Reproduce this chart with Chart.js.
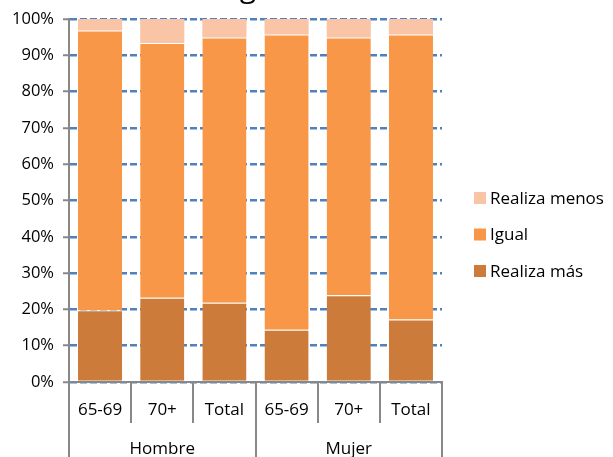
<!DOCTYPE html>
<html>
<head>
<meta charset="utf-8">
<script src="https://cdn.jsdelivr.net/npm/chart.js@4.4.0/dist/chart.umd.min.js"></script>
<style>
  html, body { margin: 0; padding: 0; background: #fff; }
  #wrap { width: 613px; height: 457px; position: relative; }
</style>
</head>
<body>
<div id="wrap"><canvas id="chart" width="613" height="457"></canvas></div>
<script>
// Data
const categories = ['65-69', '70+', 'Total', '65-69', '70+', 'Total'];
const groups = ['Hombre', 'Mujer'];
const realizaMas = [19.8, 23.2, 21.8, 14.4, 23.9, 17.2];
const igual = [77.0, 70.2, 73.1, 81.3, 71.0, 78.5];
const realizaMenos = [3.2, 6.6, 5.1, 4.3, 5.1, 4.3];
const yTicks = [0, 10, 20, 30, 40, 50, 60, 70, 80, 90, 100];

const FONT = '"Open Sans", Lato, sans-serif';
const AXIS_GRAY = '#888888';

// Two level category axis, legend and the clipped title glyph
const extrasPlugin = {
    id: 'extras',
    afterDraw(chart) {
        const ctx = chart.ctx;
        const x = chart.scales.x;
        const area = chart.chartArea;
        const half = (x.getPixelForValue(1) - x.getPixelForValue(0)) / 2;

        ctx.save();
        ctx.strokeStyle = AXIS_GRAY;
        ctx.lineWidth = 2;
        // separators
        for (let i = 0; i <= categories.length; i++) {
            const px = Math.round(i < categories.length ? x.getPixelForValue(i) - half : x.getPixelForValue(i - 1) + half);
            const outer = i % 3 === 0;
            ctx.beginPath();
            ctx.moveTo(px, area.bottom);
            ctx.lineTo(px, outer ? 457 : 423);
            ctx.stroke();
        }
        ctx.fillStyle = '#000';
        ctx.font = '17px ' + FONT;
        ctx.textAlign = 'center';
        ctx.textBaseline = 'middle';
        categories.forEach((c, i) => {
            ctx.fillText(c, x.getPixelForValue(i), 410);
        });
        groups.forEach((g, j) => {
            const cx = (x.getPixelForValue(j * 3) + x.getPixelForValue(j * 3 + 2)) / 2;
            ctx.fillText(g, cx, 449);
        });

        // legend (reversed order, like the stack)
        const items = chart.data.datasets.slice().reverse();
        ctx.textAlign = 'left';
        ctx.font = '17px ' + FONT;
        items.forEach((ds, k) => {
            const y = 198 + k * 36.5;
            ctx.fillStyle = ds.backgroundColor;
            ctx.fillRect(474, y - 6, 12, 12);
            ctx.fillStyle = '#000';
            ctx.fillText(ds.label, 490, y + 1);
        });

        // title is cut off above the picture; only the descender shows
        ctx.font = '30px ' + FONT;
        ctx.textAlign = 'center';
        ctx.textBaseline = 'alphabetic';
        ctx.fillText('g', 248, -3);
        ctx.restore();
    }
};

new Chart(document.getElementById('chart'), {
    type: 'bar',
    data: {
        labels: categories,
        datasets: [
            {
                label: 'Realiza más',
                data: realizaMas,
                backgroundColor: '#CC7B3A',
                borderColor: 'rgba(255,255,255,0.35)',
                borderWidth: { top: 1, left: 0, right: 0, bottom: 0 },
                barPercentage: 0.71,
                categoryPercentage: 1
            },
            {
                label: 'Igual',
                data: igual,
                backgroundColor: '#F79747',
                borderColor: 'rgba(255,255,255,0.35)',
                borderWidth: { top: 1, left: 0, right: 0, bottom: 0 },
                barPercentage: 0.71,
                categoryPercentage: 1
            },
            {
                label: 'Realiza menos',
                data: realizaMenos,
                backgroundColor: '#FAC4A6',
                borderWidth: 0,
                barPercentage: 0.71,
                categoryPercentage: 1
            }
        ]
    },
    options: {
        responsive: false,
        animation: false,
        layout: {
            padding: { top: 19, right: 171, left: 0, bottom: 0 }
        },
        plugins: {
            legend: { display: false },
            tooltip: { enabled: false }
        },
        scales: {
            x: {
                stacked: true,
                ticks: { display: false },
                grid: { display: false },
                border: { display: true, color: AXIS_GRAY, width: 2 },
                afterFit(scale) { scale.height = 75; }
            },
            y: {
                stacked: true,
                min: 0,
                max: 100,
                afterBuildTicks(scale) {
                    scale.ticks = yTicks.map(v => ({ value: v }));
                },
                ticks: {
                    callback: v => v + '%',
                    color: '#000',
                    font: { family: FONT, size: 16.5 },
                    padding: 9
                },
                grid: {
                    color: '#4F81BD',
                    lineWidth: 2.5,
                    tickColor: AXIS_GRAY,
                    tickLength: 6,
                    tickWidth: 2,
                    tickBorderDash: []
                },
                border: { display: true, color: AXIS_GRAY, width: 2, dash: [7, 3] },
                afterFit(scale) { scale.width = 69; }
            }
        }
    },
    plugins: [extrasPlugin]
});
</script>
</body>
</html>
